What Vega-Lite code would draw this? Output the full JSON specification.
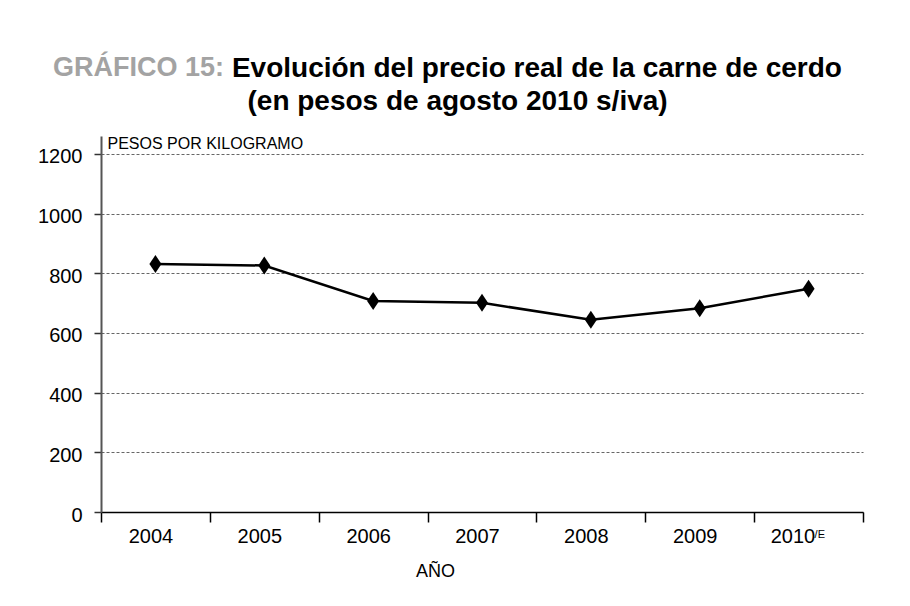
{
  "$schema": "https://vega.github.io/schema/vega-lite/v6.json",
  "width": 762,
  "height": 376,
  "autosize": {"type": "none"},
  "padding": {"left": 101, "top": 136, "right": 47, "bottom": 94},
  "background": "white",
  "config": {"view": {"stroke": null}, "font": "Liberation Sans"},
  "title": {
    "text": "GRÁFICO 15:",
    "subtitle": [
      "\u200b\u00a0\u00a0\u00a0\u00a0\u00a0\u00a0\u00a0\u00a0\u00a0\u00a0\u00a0\u00a0\u00a0\u00a0\u00a0\u00a0\u00a0\u00a0\u00a0\u00a0\u00a0\u00a0\u00a0Evolución del precio real de la carne de cerdo",
      "\u200b\u00a0\u00a0\u00a0\u00a0\u00a0\u00a0\u00a0\u00a0\u00a0\u00a0\u00a0\u00a0\u00a0\u00a0\u00a0\u00a0\u00a0\u00a0\u00a0\u00a0\u00a0\u00a0\u00a0\u00a0\u00a0(en pesos de agosto 2010 s/iva)"
    ],
    "anchor": "start",
    "frame": "group",
    "dx": -48,
    "offset": 18,
    "font": "Liberation Sans",
    "fontSize": 27,
    "fontWeight": "bold",
    "color": "#a3a3a3",
    "subtitleFont": "Liberation Sans",
    "subtitleFontSize": 28,
    "subtitleFontWeight": "bold",
    "subtitleColor": "black",
    "subtitlePadding": -27,
    "subtitleLineHeight": 33
  },
  "data": {
    "values": [
      {"anio": "2004", "precio": 831},
      {"anio": "2005", "precio": 826},
      {"anio": "2006", "precio": 707},
      {"anio": "2007", "precio": 701},
      {"anio": "2008", "precio": 644},
      {"anio": "2009", "precio": 683},
      {"anio": "2010/E", "precio": 748}
    ]
  },
  "encoding": {
    "x": {
      "field": "anio",
      "type": "ordinal",
      "sort": null,
      "scale": {"type": "band", "paddingInner": 0, "paddingOuter": 0},
      "axis": {
        "title": "AÑO",
        "labelAngle": 0,
        "tickBand": "extent",
        "domainColor": "black",
        "domainWidth": 1.5,
        "tickColor": "black",
        "tickSize": 10,
        "tickWidth": 1.5,
        "labelPadding": 4,
        "labelOffset": -5,
        "labelFont": "Liberation Sans",
        "labelFontSize": 20,
        "labelColor": "black",
        "labelExpr": "datum.value == '2010/E' ? '2010\u00a0\u00a0\u00a0\u00a0\u200b' : datum.value",
        "titleFont": "Liberation Sans",
        "titleFontSize": 18,
        "titleFontWeight": "normal",
        "titleColor": "black",
        "titleX": 334,
        "titleY": 64,
        "titleAlign": "center",
        "titleBaseline": "alphabetic",
        "grid": false
      }
    },
    "y": {
      "field": "precio",
      "type": "quantitative",
      "scale": {"domain": [0, 1260], "nice": false},
      "axis": {
        "values": [0, 200, 400, 600, 800, 1000, 1200],
        "format": "d",
        "title": "PESOS POR KILOGRAMO",
        "titleAngle": 0,
        "titleAlign": "left",
        "titleBaseline": "alphabetic",
        "titleX": 6,
        "titleY": 12,
        "titleFont": "Liberation Sans",
        "titleFontSize": 16,
        "titleFontWeight": "normal",
        "titleColor": "black",
        "labelFont": "Liberation Sans",
        "labelFontSize": 20,
        "labelColor": "black",
        "labelPadding": 12,
        "labelOffset": 3,
        "tickSize": 7,
        "tickColor": "#333333",
        "tickWidth": 1.5,
        "domainColor": "#555555",
        "domainWidth": 2,
        "grid": true,
        "gridColor": "#666666",
        "gridDash": [3, 2],
        "gridWidth": 1
      }
    }
  },
  "layer": [
    {"mark": {"type": "line", "color": "black", "strokeWidth": 2.5}},
    {
      "mark": {
        "type": "point",
        "shape": "M0,-1L0.67,0L0,1L-0.67,0Z",
        "filled": true,
        "color": "black",
        "opacity": 1,
        "size": 324
      }
    },
    {
      "transform": [{"filter": "datum.anio == '2010/E'"}],
      "mark": {
        "type": "text",
        "text": "/E",
        "font": "Liberation Sans",
        "fontSize": 11,
        "align": "left",
        "baseline": "top",
        "dx": 6,
        "dy": 17,
        "color": "black"
      },
      "encoding": {"y": {"datum": 0}}
    }
  ]
}
